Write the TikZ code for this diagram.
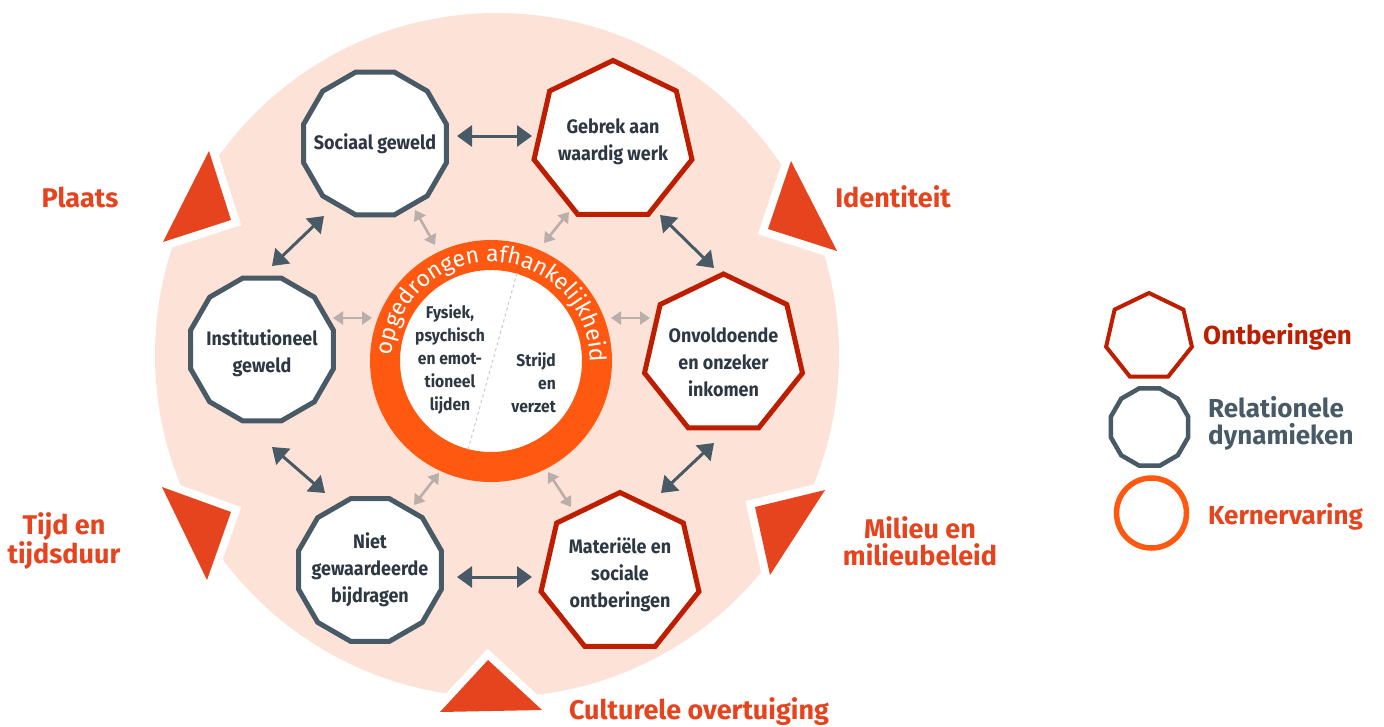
\documentclass[tikz,border=0pt]{standalone}
\usepackage{fontspec}
\setmainfont{Fira Sans}
\newfontfamily\condfont[FakeStretch=0.92]{Fira Sans}
\usetikzlibrary{shapes.geometric,arrows.meta,decorations.text,calc}
\definecolor{pale}{RGB}{253,226,215}
\definecolor{tri}{RGB}{229,68,30}
\definecolor{dred}{RGB}{190,30,0}
\definecolor{slate}{RGB}{72,90,102}
\definecolor{ringc}{RGB}{255,88,16}
\definecolor{lgray}{RGB}{185,174,170}
\definecolor{ink}{RGB}{45,56,66}
\definecolor{dashc}{RGB}{200,200,200}
\tikzset{
  relnode/.style={regular polygon, regular polygon sides=12, minimum size=148pt, inner sep=0pt, draw=slate, line width=5pt, fill=white},
  depnode/.style={regular polygon, regular polygon sides=7, minimum size=162pt, inner sep=0pt, draw=dred, line width=5pt, fill=white},
  ntext/.style={font=\condfont\bfseries\fontsize{19.5}{27}\selectfont, text=ink, align=center, inner sep=0pt},
  rtext/.style={font=\condfont\bfseries\fontsize{17}{23}\selectfont, text=ink, inner sep=0pt},
  darr/.style={draw=slate, line width=3pt, arrows={Triangle[length=15pt,width=21pt]-Triangle[length=15pt,width=21pt]}},
  larr/.style={draw=lgray, line width=2.6pt, arrows={Triangle[length=10pt,width=13pt]-Triangle[length=10pt,width=13pt]}},
  tribox/.style={fill=tri, preaction={draw=white, line width=16pt, line join=miter}},
  lab/.style={font=\bfseries\fontsize{27}{27}\selectfont, text=tri, align=center, inner sep=0pt},
  legtext/.style={font=\bfseries\fontsize{26}{27}\selectfont, align=left, anchor=west, inner sep=0pt}
}
\begin{document}
\begin{tikzpicture}[x=1pt,y=-1pt]
\useasboundingbox (0,0) rectangle (1384,726);
\fill[white] (0,0) rectangle (1384,726);
% background disc
\fill[pale] (497,355) circle[radius=342];
% triangles
\path[tribox] (209,151) -- (163,242) -- (231,220) -- cycle;
\path[tribox] (791,161) -- (768,229) -- (837,251) -- cycle;
\path[tribox] (755,507) -- (825,490) -- (770,575) -- cycle;
\path[tribox] (488,660) -- (440,712) -- (542,710) -- cycle;
\path[tribox] (162,487) -- (231,512) -- (207,580) -- cycle;
% labels
\node[lab] (lplaats) at (80,197) {Plaats};
\node[lab] (lident) at (893,197) {Identiteit};
\node[lab] (ltijd) at (64,541) {Tijd en\\tijdsduur};
\node[lab] (lmilieu) at (920,541) {Milieu en\\milieubeleid};
\node[lab] (lcult) at (699,712) {Culturele overtuiging};
% core ring
\node[circle, draw=ringc, line width=30pt, minimum size=212pt, fill=white, inner sep=0pt] (ring) at (491,361) {};
\draw[dashc, dashed, line width=1pt] ([shift={(26,-88)}]ring.center) -- ([shift={(-23,89)}]ring.center);
\path[decorate, decoration={text along path, text align=center,
  text={|\fontsize{23}{23}\selectfont\color{white}|opgedrongen afhankelijkheid}}]
  ([shift={(198:99pt)}]ring.center) arc[start angle=198, end angle=-22, radius=99pt];
\node[rtext, align=center] (lijden) at (450,359) {Fysiek,\\psychisch\\en emot-\\tioneel\\lijden};
\node[rtext, align=right, anchor=east] (strijd) at (556,383) {Strijd\\en\\verzet};
% relational nodes
\node[relnode] (soc) at (375,143.5) {};
\node[relnode] (inst) at (262,349.5) {};
\node[relnode] (niet) at (370,570) {};
% deprivation nodes
\node[depnode] (geb) at (613,141.5) {};
\node[depnode] (onv) at (723.5,355) {};
\node[depnode] (mat) at (620,573.5) {};
% node texts
\node[ntext] at (soc.center) {Sociaal geweld};
\node[ntext] at ([shift={(0,4)}]inst.center) {Institutioneel\\geweld};
\node[ntext] at (niet.center) {Niet\\gewaardeerde\\bijdragen};
\node[ntext] at (geb.center) {Gebrek aan\\waardig werk};
\node[ntext] at ([shift={(0,7)}]onv.center) {Onvoldoende\\en onzeker\\inkomen};
\node[ntext] at ([shift={(0,1.5)}]mat.center) {Materiële en\\sociale\\ontberingen};
% dark connectors
\draw[darr] ([shift={(82,-7.5)}]soc.center) -- ([shift={(-81,-5.5)}]geb.center);
\draw[darr] ([shift={(-51,72.5)}]soc.center) -- ([shift={(10,-83.5)}]inst.center);
\draw[darr] ([shift={(47,73.5)}]geb.center) -- ([shift={(-9.5,-87)}]onv.center);
\draw[darr] ([shift={(10,97.5)}]inst.center) -- ([shift={(-45,-77)}]niet.center);
\draw[darr] ([shift={(-9.5,88)}]onv.center) -- ([shift={(41,-80.5)}]mat.center);
\draw[darr] ([shift={(87,7)}]niet.center) -- ([shift={(-88,3.5)}]mat.center);
% light connectors
\draw[larr] ([shift={(40,66.5)}]soc.center) -- ([shift={(-56,-116)}]ring.center);
\draw[larr] ([shift={(-44,70.5)}]geb.center) -- ([shift={(53,-118)}]ring.center);
\draw[larr] ([shift={(71,-31.5)}]inst.center) -- ([shift={(-119,-43)}]ring.center);
\draw[larr] ([shift={(-73.5,-37)}]onv.center) -- ([shift={(120,-43)}]ring.center);
\draw[larr] ([shift={(44,-65)}]niet.center) -- ([shift={(-52,112)}]ring.center);
\draw[larr] ([shift={(-49,-66.5)}]mat.center) -- ([shift={(57,111)}]ring.center);
% legend
\node[regular polygon, regular polygon sides=7, minimum size=88pt, inner sep=0pt, draw=dred, line width=4pt] (legdep) at (1149,337) {};
\node[regular polygon, regular polygon sides=12, minimum size=80pt, inner sep=0pt, draw=slate, line width=4.5pt] (legrel) at (1149.5,427) {};
\node[circle, minimum size=70pt, inner sep=0pt, draw=ringc, line width=5.5pt] (legcore) at (1151.5,513) {};
\node[legtext, text=dred] (tdep) at (1203,337) {Ontberingen};
\node[legtext, text=slate] (trel) at (1208,423) {Relationele\\dynamieken};
\node[legtext, text=tri] (tcore) at (1208,517) {Kernervaring};
\end{tikzpicture}
\end{document}
